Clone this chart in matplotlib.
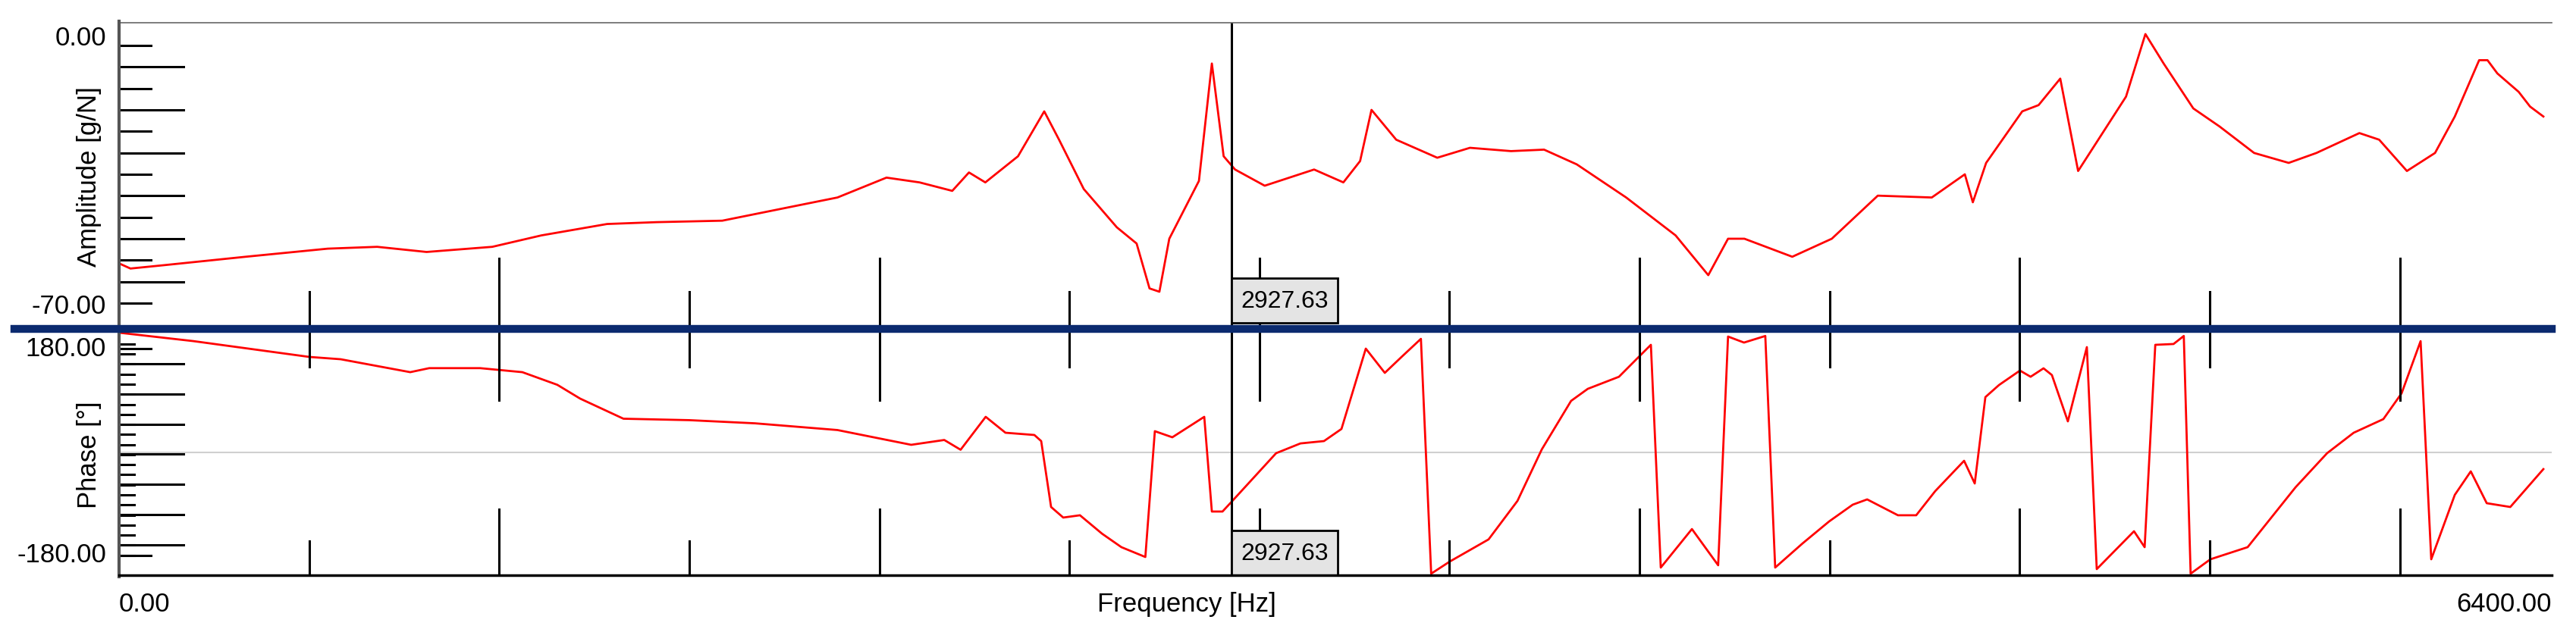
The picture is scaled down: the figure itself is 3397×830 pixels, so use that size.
import numpy as np
import matplotlib
matplotlib.use('Agg')
import matplotlib.pyplot as plt
from matplotlib.lines import Line2D
from matplotlib.patches import Rectangle

plt.rcParams['font.family'] = ['Liberation Sans', 'DejaVu Sans']

# Data
amp_freq = [0, 30, 117, 333, 549, 679, 809, 982, 1111, 1284, 1414, 1587, 1760, 1890, 2019, 2106,
            2192, 2236, 2279, 2365, 2434, 2473, 2538, 2625, 2677, 2711, 2737, 2763, 2841, 2875,
            2906, 2936, 3014, 3144, 3221, 3265, 3295, 3360, 3468, 3554, 3662, 3749, 3835, 3965,
            4095, 4181, 4233, 4276, 4402, 4506, 4627, 4769, 4856, 4877, 4912, 5007, 5050, 5107,
            5154, 5280, 5331, 5379, 5457, 5526, 5617, 5708, 5781, 5894, 5946, 6019, 6093, 6145,
            6209, 6231, 6257, 6313, 6343, 6378]
amp_db = [-59.2, -60.6, -59.7, -57.4, -55.2, -54.7, -56.1, -54.7, -51.6, -48.5, -48.0, -47.6,
          -44.0, -41.3, -35.9, -37.2, -39.5, -34.5, -37.2, -30.1, -17.9, -25.6, -39.0, -49.4,
          -53.8, -66.0, -66.9, -52.5, -36.8, -4.9, -30.1, -33.7, -38.1, -33.7, -37.2, -31.4,
          -17.5, -25.6, -30.5, -27.8, -28.7, -28.3, -32.3, -41.3, -51.6, -62.4, -52.5, -52.5,
          -57.4, -52.5, -40.8, -41.3, -35.0, -42.6, -31.9, -17.9, -16.2, -9.0, -34.1, -13.9,
          3.1, -4.9, -17.1, -22.0, -29.2, -31.9, -29.2, -23.8, -25.6, -34.1, -29.2, -19.3,
          -4.0, -4.0, -7.6, -12.6, -16.6, -19.3]

phase_freq = [0, 196, 501, 583, 766, 816, 950, 1061, 1153, 1213, 1327, 1500, 1673, 1890, 2084,
              2171, 2214, 2280, 2332, 2408, 2426, 2452, 2484, 2528, 2586, 2637, 2700, 2725, 2771,
              2855, 2875, 2903, 2929, 3044, 3108, 3170, 3216, 3280, 3330, 3374, 3425, 3452, 3501,
              3603, 3679, 3743, 3820, 3864, 3946, 3998, 4030, 4056, 4138, 4207, 4233, 4275, 4331,
              4357, 4429, 4499, 4561, 4599, 4680, 4728, 4778, 4854, 4882, 4910, 4946, 5001, 5029,
              5063, 5085, 5127, 5177, 5203, 5301, 5329, 5357, 5405, 5432, 5450, 5502, 5600, 5726,
              5809, 5879, 5957, 6005, 6055, 6083, 6145, 6187, 6229, 6291, 6378]
phase_deg = [207.7, 193, 165.5, 161.5, 139, 146, 146, 139, 117, 93, 58, 55.5, 50, 38.3, 12.6,
             21, 4, 61.3, 33.6, 29.7, 19.1, -95.6, -114, -110, -142, -165.5, -182.6, 36.3, 25.7,
             61.3, -103.5, -103.5, -85, -2, 15, 19.1, 40.2, 180, 137.8, 165.5, 197, -211.6,
             -190.5, -152, -85, 4.6, 89, 110, 131, 165.5, 186.6, -201, -134, -197, 201, 190.5,
             202, -201, -159, -120.7, -91.6, -82.4, -110, -110, -68, -15.2, -54.7, 95.6, 116.7,
             141.8, 131, 145.7, 134, 53.4, 182.6, -203.7, -137.8, -165.5, 186.6, 188, 202,
             -211.6, -186.6, -165.5, -61.3, -2, 33.6, 57.3, 102.2, 193, -186.6, -74.5, -33.6,
             -89, -95.6, -29.7]

cursor_freq = 2927.63
f_max = 6400

W, H = 3397, 830
fig = plt.figure(figsize=(W / 100, H / 100), dpi=100)

def box(x0, y0, x1, y1):
    return [x0 / W, 1 - y1 / H, (x1 - x0) / W, (y1 - y0) / H]

X0, X1 = 157, 3365
ax1 = fig.add_axes(box(X0, 30, X1, 434))
ax2 = fig.add_axes(box(X0, 434, X1, 759))

# amplitude: 0 at y=60, -70 at y=400 ; phase: 180 at y=460, -180 at y=733
ax1.set_ylim(-70 - 34 * 70 / 340, 30 * 70 / 340)
ax2.set_ylim(-180 - 26 * 360 / 273, 180 + 26 * 360 / 273)
for ax in (ax1, ax2):
    ax.set_xlim(0, f_max)
    ax.set_xticks([])
    ax.set_yticks([])
    for s in ax.spines.values():
        s.set_visible(False)
    ax.patch.set_alpha(0)

ax1.plot(amp_freq, amp_db, color='red', lw=2, clip_on=False)
ax2.axhline(0, color='#d0d0d0', lw=1.5)
ax2.plot(phase_freq, phase_deg, color='red', lw=2)

# left ticks
tr1 = ax1.get_yaxis_transform()
for i, v in enumerate(np.linspace(0, -70, 13)):
    ax1.plot([0, 0.0265 if i % 2 else 0.0131], [v, v], color='black', lw=2.2, transform=tr1)
tr2 = ax2.get_yaxis_transform()
for v in np.arange(153.6, -190, -52.5):
    ax2.plot([0, 0.0265], [v, v], color='black', lw=2.2, transform=tr2)
for v in np.arange(188, -190, -17.5):
    ax2.plot([0, 0.0062], [v, v], color='black', lw=2.2, transform=tr2)
for v in (180, -180):
    ax2.plot([0, 0.0131], [v, v], color='black', lw=2.2, transform=tr2)

# frequency grid ticks
tx1 = ax1.get_xaxis_transform()
tx2 = ax2.get_xaxis_transform()
for k in range(1, 13):
    f = 500 * k
    tall = k % 2 == 0
    ax1.plot([f, f], [0, 0.23 if tall else 0.121], color='black', lw=2.2, transform=tx1)
    ax2.plot([f, f], [1, 1 - (0.289 if tall else 0.154)], color='black', lw=2.2, transform=tx2)
    ax2.plot([f, f], [0, 0.268 if tall else 0.138], color='black', lw=2.2, transform=tx2)

# cursor
ax1.plot([cursor_freq] * 2, [0, 1], color='black', lw=2.2, transform=tx1)
ax2.plot([cursor_freq] * 2, [0, 1], color='black', lw=2.2, transform=tx2)
for ytop in (367, 700):
    fig.patches.append(Rectangle((1624 / W, 1 - (ytop + 59) / H), 140 / W, 59 / H,
                                 transform=fig.transFigure, facecolor='#e4e4e4',
                                 edgecolor='black', lw=2))
    fig.text(1694 / W, 1 - (ytop + 31) / H, f'{cursor_freq:.2f}', ha='center', va='center',
             fontsize=23)

# frame lines
fig.add_artist(Line2D([X0 / W, X1 / W], [1 - 30 / H] * 2, color='#666666', lw=1.2))
fig.add_artist(Line2D([X0 / W] * 2, [1 - 28 / H, 1 - 761 / H], color='#555555', lw=3))
fig.add_artist(Line2D([X0 / W, X1 / W], [1 - 759 / H] * 2, color='black', lw=2.5))
fig.add_artist(Line2D([19 / W, X1 / W], [1 - 434 / H] * 2, color='#0b2a6f', lw=7.5))

# labels
fs = 25
fig.text(140 / W, 1 - 51 / H, '0.00', ha='right', va='center', fontsize=fs)
fig.text(140 / W, 1 - 404 / H, '-70.00', ha='right', va='center', fontsize=fs)
fig.text(140 / W, 1 - 460 / H, '180.00', ha='right', va='center', fontsize=fs)
fig.text(140 / W, 1 - 733 / H, '-180.00', ha='right', va='center', fontsize=fs)
fig.text(117 / W, 1 - 233 / H, 'Amplitude [g/N]', ha='center', va='center', rotation=90, fontsize=fs)
fig.text(117 / W, 1 - 600 / H, 'Phase [°]', ha='center', va='center', rotation=90, fontsize=fs)
fig.text(157 / W, 1 - 797 / H, '0.00', ha='left', va='center', fontsize=fs)
fig.text(X1 / W, 1 - 797 / H, '6400.00', ha='right', va='center', fontsize=fs)
fig.text(1565 / W, 1 - 797 / H, 'Frequency [Hz]', ha='center', va='center', fontsize=fs)

fig.savefig('out.png', dpi=100, facecolor='white')
plt.close(fig)
